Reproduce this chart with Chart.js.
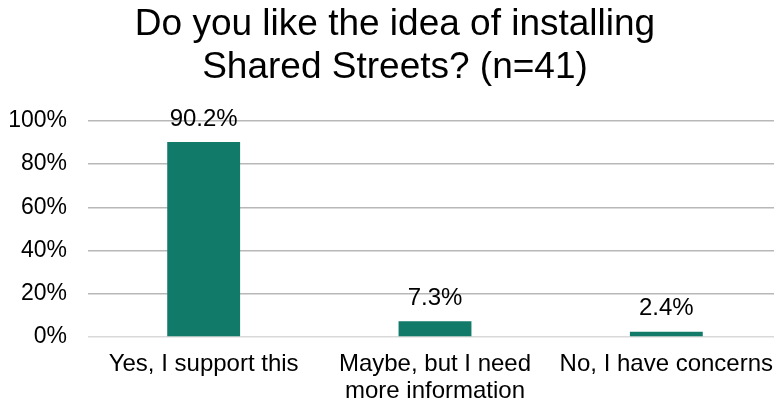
<!DOCTYPE html>
<html>
<head>
<meta charset="utf-8">
<script src="https://cdn.jsdelivr.net/npm/chart.js@4"></script>
<style>
  html, body { margin: 0; padding: 0; background: #fff; overflow: hidden; }
  #wrap { width: 800px; height: 404px; }
</style>
</head>
<body>
<div id="wrap"><canvas id="myChart"></canvas></div>
<script>
// survey answers, % of respondents
const categories = [
  "Yes, I support this",
  ["Maybe, but I need", "more information"],
  "No, I have concerns"
];
const percentValues = [90.2, 7.3, 2.4];
const yTicks = [0, 20, 40, 60, 80, 100];

const barColor = "#117a69";
const fontFamily = "'Liberation Sans', Arial, sans-serif";

// writes the value above each bar
const valueLabels = {
  id: "valueLabels",
  afterDatasetsDraw(chart) {
    const ctx = chart.ctx;
    const meta = chart.getDatasetMeta(0);
    ctx.save();
    ctx.font = "24px " + fontFamily;
    ctx.fillStyle = "#000";
    ctx.textAlign = "center";
    ctx.textBaseline = "middle";
    meta.data.forEach((bar, i) => {
      const str = `${percentValues[i].toFixed(1)}%`;
      ctx.fillText(str, bar.x, bar.y - 23);
    });
    ctx.restore();
  }
};

function initChart(target) {
  const data = {
    labels: categories,
    datasets: [{
      data: percentValues,
      backgroundColor: barColor,
      borderWidth: 0,
      barPercentage: 0.315,
      categoryPercentage: 1
    }]
  };

  const config = {
    type: "bar",
    data: data,
    options: {
      responsive: true,
      maintainAspectRatio: false,
      animation: false,
      layout: {
        padding: { left: 8, right: 18, top: 0, bottom: 0 }
      },
      plugins: {
        legend: { display: false },
        tooltip: { enabled: false },
        title: {
          display: true,
          text: ["Do you like the idea of installing", "Shared Streets? (n=41)"],
          color: "#000",
          font: { family: fontFamily, size: 37, weight: "normal", lineHeight: 1.16 },
          padding: { top: 3, bottom: 32 }
        }
      },
      scales: {
        x: {
          grid: { display: false, drawTicks: false },
          border: { display: false },
          afterFit(scale) {
            // keep long labels from squeezing the plot
            scale.paddingLeft = 0;
            scale.paddingRight = 0;
            scale.height = 67;
          },
          ticks: {
            color: "#000",
            padding: 14,
            maxRotation: 0,
            autoSkip: false,
            font: { family: fontFamily, size: 24, lineHeight: 1.11 }
          }
        },
        y: {
          min: 0,
          max: 100,
          afterBuildTicks(scale) {
            scale.ticks = yTicks.map((v) => ({ value: v }));
          },
          afterFit(scale) {
            scale.width = 80;
          },
          grid: {
            drawTicks: false,
            lineWidth: 1.5,
            color: (c) => (c.tick && c.tick.value === 0 ? "#d9d9d9" : "#b8b8b8")
          },
          border: { display: false },
          ticks: {
            color: "#000",
            padding: 21,
            font: { family: fontFamily, size: 23 },
            callback: (v) => v + "%"
          }
        }
      }
    },
    plugins: [valueLabels]
  };

  return new Chart(target, config);
}

document.addEventListener("DOMContentLoaded", () => {
  const chartTarget = document.querySelector("#myChart");
  const myChart = initChart(chartTarget);
  console.log(myChart.chartArea);
});
</script>
</body>
</html>
